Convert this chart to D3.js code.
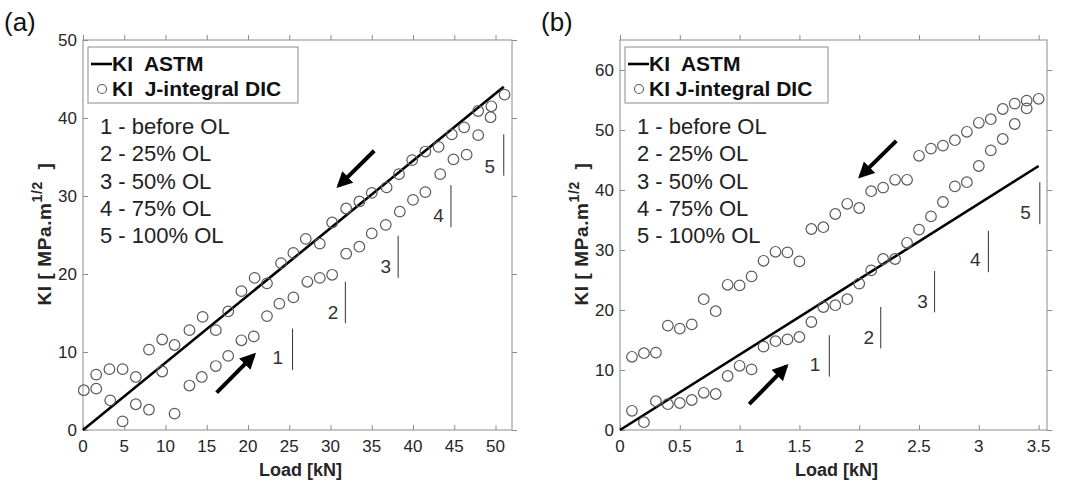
<!DOCTYPE html>
<html>
<head>
<meta charset="utf-8">
<script src="https://cdn.jsdelivr.net/npm/d3@7"></script>
<style>
  body { margin: 0; background: #fff; }
  svg text { font-family: "Liberation Sans", Arial, sans-serif; }
</style>
</head>
<body>
<script>
// ---- panel (a): load in kN, KI in MPa.m^1/2
const loadA = [0.1, 1.6, 3.2, 4.8, 6.4, 8.0, 9.6, 11.1, 12.9, 14.5, 16.1, 17.6, 19.2, 20.8, 22.3, 24.0, 25.5, 27.0, 28.7, 30.2, 31.9, 33.5, 35.0, 36.8, 38.3, 39.9, 41.5, 43.1, 44.7, 46.2, 47.9, 49.5, 51.1];
const upperA = [5.1, 7.1, 7.8, 7.8, 6.8, 10.3, 11.6, 10.9, 12.8, 14.5, 12.8, 15.2, 17.8, 19.5, 18.8, 21.4, 22.7, 24.5, 23.9, 26.6, 28.4, 29.3, 30.4, 31.1, 32.8, 34.6, 35.7, 36.3, 37.9, 38.8, 40.9, 41.5, 43.0];
const lowerLoadA = [1.6, 3.3, 4.8, 6.4, 8.0, 9.6, 11.1, 12.9, 14.4, 16.1, 17.6, 19.2, 20.7, 22.3, 23.8, 25.5, 27.2, 28.7, 30.2, 31.9, 33.5, 35.0, 36.7, 38.4, 40.0, 41.5, 43.3, 44.9, 46.5, 47.9, 49.4];
const lowerA = [5.3, 3.8, 1.1, 3.3, 2.6, 7.5, 2.1, 5.7, 6.8, 8.2, 9.5, 11.5, 12.0, 14.6, 16.2, 17.0, 19.0, 19.5, 19.9, 22.6, 23.5, 25.2, 26.3, 28.0, 29.5, 30.5, 32.8, 34.7, 35.3, 37.8, 40.1];
const astmA = [[0, 0], [51, 44]];

// ---- panel (b)
const loadB = [0.1, 0.2, 0.3, 0.4, 0.5, 0.6, 0.7, 0.8, 0.9, 1.0, 1.1, 1.2, 1.3, 1.4, 1.5, 1.6, 1.7, 1.8, 1.9, 2.0, 2.1, 2.2, 2.3, 2.4, 2.5, 2.6, 2.7, 2.8, 2.9, 3.0, 3.1, 3.2, 3.3, 3.4, 3.5];
const upperB = [12.2, 12.8, 12.9, 17.4, 16.9, 17.6, 21.8, 19.8, 24.2, 24.1, 25.6, 28.2, 29.7, 29.6, 28.1, 33.5, 33.8, 36.0, 37.7, 37.0, 39.8, 40.4, 41.7, 41.7, 45.7, 46.9, 47.4, 48.3, 49.7, 51.2, 51.8, 53.5, 54.4, 54.9, 55.2];
const lowerLoadB = [0.1, 0.2, 0.3, 0.4, 0.5, 0.6, 0.7, 0.8, 0.9, 1.0, 1.1, 1.2, 1.3, 1.4, 1.5, 1.6, 1.7, 1.8, 1.9, 2.0, 2.1, 2.2, 2.3, 2.4, 2.5, 2.6, 2.7, 2.8, 2.9, 3.0, 3.1, 3.2, 3.3, 3.4];
const lowerB = [3.2, 1.3, 4.8, 4.3, 4.5, 5.0, 6.2, 6.0, 9.0, 10.7, 10.1, 13.9, 14.8, 15.1, 15.5, 18.0, 20.5, 20.8, 21.8, 24.4, 26.6, 28.5, 28.5, 31.2, 33.4, 35.6, 38.0, 40.6, 41.3, 44.0, 46.6, 48.5, 51.0, 53.6];
const astmB = [[0, 0], [3.5, 44]];

// stage markers: [x, yBottom, yTop, labelX, labelY]
const stagesA = [[25.4, 7.7, 13.0, 23.6, 8.4], [31.8, 13.7, 19.0, 30.3, 14.2], [38.2, 19.5, 24.9, 36.7, 20.1], [44.6, 26.0, 31.4, 43.1, 26.7], [51.0, 32.6, 37.9, 49.3, 32.9]];
const stagesB = [[1.75, 8.9, 15.8, 1.63, 9.8], [2.18, 13.6, 20.5, 2.08, 14.3], [2.63, 19.6, 26.5, 2.53, 20.4], [3.08, 26.3, 33.2, 2.97, 27.3], [3.51, 34.3, 41.3, 3.39, 35.1]];
const stageNames = ["1 - before OL", "2 - 25% OL", "3 - 50% OL", "4 - 75% OL", "5 - 100% OL"];

// arrows: [x1, y1, x2, y2]
const arrowsA = [[16.2, 4.8, 20.7, 9.6], [35.3, 35.8, 31.0, 31.3]];
const arrowsB = [[1.08, 4.3, 1.39, 10.6], [2.31, 48.2, 2.01, 42.3]];

const ticksA = { x: d3.range(0, 51, 5), y: d3.range(0, 51, 10) };
const ticksB = { x: [0, 0.5, 1, 1.5, 2, 2.5, 3, 3.5], y: d3.range(0, 61, 10) };

const svg = d3.select("body").append("svg").attr("width", 1065).attr("height", 492);

const defs = svg.append("defs");
defs.append("marker").attr("id", "head")
    .attr("viewBox", "0 0 10 10").attr("refX", 8).attr("refY", 5)
    .attr("markerWidth", 4).attr("markerHeight", 4).attr("orient", "auto")
  .append("path").attr("d", "M0,0 L10,5 L0,10 z").attr("fill", "#000");

function panel(o) {
  const g = svg.append("g");
  const x = d3.scaleLinear().domain(o.xDom).range([o.left, o.right]);
  const y = d3.scaleLinear().domain(o.yDom).range([430, 40]);
  const axCol = "#8c8c8c", txtCol = "#262626";

  // box + ticks on all four sides, pointing inward
  g.append("rect").attr("x", o.left).attr("y", 40).attr("width", o.right - o.left).attr("height", 390)
    .attr("fill", "none").attr("stroke", axCol).attr("stroke-width", 1);
  const tl = 5;
  [[d3.axisBottom(x), 430, -tl], [d3.axisTop(x), 40, tl]].forEach(([ax, ty, s]) => {
    const a = g.append("g").attr("transform", `translate(0,${ty})`)
      .call(ax.tickValues(o.ticks.x).tickSize(s).tickFormat(""));
    a.select(".domain").remove();
    a.selectAll("line").attr("stroke", axCol);
  });
  [[d3.axisLeft(y), o.left, -tl], [d3.axisRight(y), o.right, tl]].forEach(([ax, tx, s]) => {
    const a = g.append("g").attr("transform", `translate(${tx},0)`)
      .call(ax.tickValues(o.ticks.y).tickSize(s).tickFormat(""));
    a.select(".domain").remove();
    a.selectAll("line").attr("stroke", axCol);
  });
  g.selectAll(".xl").data(o.ticks.x).join("text")
    .attr("x", d => x(d)).attr("y", 452).attr("text-anchor", "middle")
    .attr("font-size", 17).attr("fill", txtCol).text(d => d);
  g.selectAll(".yl").data(o.ticks.y).join("text")
    .attr("x", o.left - 6).attr("y", d => y(d) + 6).attr("text-anchor", "end")
    .attr("font-size", 17).attr("fill", txtCol).text(d => d);

  // axis titles
  g.append("text").attr("x", (o.left + o.right) / 2 + 3).attr("y", 476).attr("text-anchor", "middle")
    .attr("font-size", 18).attr("font-weight", "bold").attr("fill", txtCol).text("Load [kN]");
  const yt = g.append("text").attr("transform", `translate(${o.left - 32},234) rotate(-90)`)
    .attr("text-anchor", "middle").attr("font-size", 19).attr("font-weight", "bold").attr("fill", txtCol)
    .attr("letter-spacing", 0.6).attr("xml:space", "preserve");
  yt.append("tspan").text("KI [ MPa.m");
  yt.append("tspan").attr("dy", -9).attr("font-size", 14).text("1/2");
  yt.append("tspan").attr("dy", 9).text("  ]");

  g.append("text").attr("x", o.left - 79).attr("y", 31).attr("font-size", 26).attr("fill", "#111").text(o.tag);

  // ASTM line
  g.append("path").datum(o.astm)
    .attr("d", d3.line().x(d => x(d[0])).y(d => y(d[1])))
    .attr("stroke", "#000").attr("stroke-width", 2.6).attr("fill", "none");

  // DIC points
  const pts = o.loadU.map((l, i) => [l, o.upper[i]]).concat(o.loadL.map((l, i) => [l, o.lower[i]]));
  g.selectAll(".pt").data(pts).join("circle")
    .attr("cx", d => x(d[0])).attr("cy", d => y(d[1])).attr("r", 5.3)
    .attr("fill", "none").attr("stroke", "#5a5a5a").attr("stroke-width", 1.2);

  // stage markers
  o.stages.forEach((s, i) => {
    g.append("line").attr("x1", x(s[0])).attr("x2", x(s[0])).attr("y1", y(s[1])).attr("y2", y(s[2]))
      .attr("stroke", "#333").attr("stroke-width", 1);
    g.append("text").attr("x", x(s[3])).attr("y", y(s[4])).attr("text-anchor", "middle")
      .attr("font-size", 19).attr("fill", "#333").text(i + 1);
  });

  // arrows
  o.arrows.forEach(a => {
    g.append("line").attr("x1", x(a[0])).attr("y1", y(a[1])).attr("x2", x(a[2])).attr("y2", y(a[3]))
      .attr("stroke", "#000").attr("stroke-width", 4).attr("marker-end", "url(#head)");
  });

  // legend
  const lx = o.left + 5, ly = 47;
  g.append("rect").attr("x", lx).attr("y", ly).attr("width", o.legW).attr("height", 56)
    .attr("fill", "#fff").attr("stroke", axCol).attr("stroke-width", 1);
  g.append("line").attr("x1", lx + 3).attr("x2", lx + 24).attr("y1", ly + 17).attr("y2", ly + 17)
    .attr("stroke", "#000").attr("stroke-width", 2.6);
  g.append("text").attr("x", lx + 24).attr("y", ly + 24).attr("font-size", 21).attr("font-weight", "bold")
    .attr("fill", "#111").attr("xml:space", "preserve").text("KI  ASTM");
  g.append("circle").attr("cx", lx + 14).attr("cy", ly + 42).attr("r", 4.5)
    .attr("fill", "none").attr("stroke", "#5a5a5a").attr("stroke-width", 1.1);
  g.append("text").attr("x", lx + 24).attr("y", ly + 49).attr("font-size", 21).attr("font-weight", "bold")
    .attr("fill", "#111").attr("xml:space", "preserve").text(o.dicName);

  // stage list
  g.selectAll(".sn").data(stageNames).join("text")
    .attr("x", lx + 12).attr("y", (d, i) => 134 + i * 27.3)
    .attr("font-size", 22).attr("fill", "#222").text(d => d);
}

panel({ tag: "(a)", left: 83, right: 512, xDom: [0, 52], yDom: [0, 50], ticks: ticksA,
  loadU: loadA, upper: upperA, loadL: lowerLoadA, lower: lowerA, astm: astmA,
  stages: stagesA, arrows: arrowsA, legW: 210, dicName: "KI  J-integral DIC" });
panel({ tag: "(b)", left: 620, right: 1047, xDom: [0, 3.57], yDom: [0, 65], ticks: ticksB,
  loadU: loadB, upper: upperB, loadL: lowerLoadB, lower: lowerB, astm: astmB,
  stages: stagesB, arrows: arrowsB, legW: 203, dicName: "KI J-integral DIC" });
</script>
</body>
</html>
